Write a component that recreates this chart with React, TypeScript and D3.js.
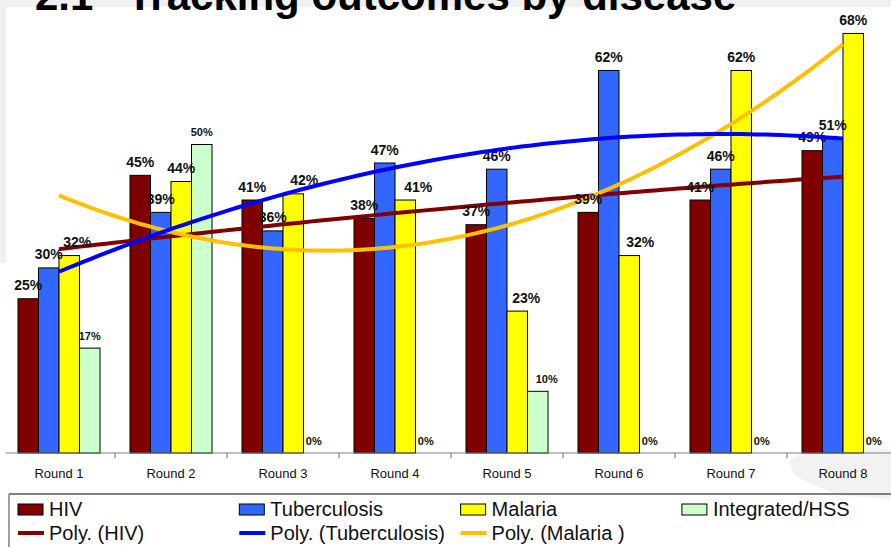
import React from "react";
import * as d3 from "d3";

// Rounds and outcome percentages per disease
const rounds = ["Round 1", "Round 2", "Round 3", "Round 4", "Round 5", "Round 6", "Round 7", "Round 8"];
const hiv = [25, 45, 41, 38, 37, 39, 41, 49];
const tuberculosis = [30, 39, 36, 47, 46, 62, 46, 51];
const malaria = [32, 44, 42, 41, 23, 32, 62, 68];
const integrated = [17, 50, 0, 0, 10, 0, 0, 0];

const seriesNames = ["HIV", "Tuberculosis", "Malaria", "Integrated/HSS"];
const trendNames = ["Poly. (HIV)", "Poly. (Tuberculosis)", "Poly. (Malaria )"];

const W = 891;
const H = 547;
const FONT = "'Liberation Sans', Arial, Helvetica, sans-serif";

const barColors = ["#800000", "#3366ff", "#ffff00", "#ccffcc"];
const trendColors = ["#800000", "#0000ff", "#ffc000"];

// horizontal nudges for data labels that sit beside a neighbouring label
const labelNudge: number[][] = [
  [0, 0, 0, 0, 0, 0, 0, 0],
  [0, 0, 0, 0, 0, 0, 0, 0],
  [8, 0, 11, 13, 9, 11, 0, 0],
  [0, 0, 0, 0, 9, 0, 0, 0],
];

// least-squares quadratic fit over x = 1..n, returns a function of x
function quadFit(ys: number[]) {
  const n = ys.length;
  const xs = ys.map((_, i) => i + 1);
  const S = (f: (x: number, y: number) => number) => d3.sum(xs, (x, i) => f(x, ys[i]));
  const s0 = n, s1 = S((x) => x), s2 = S((x) => x * x), s3 = S((x) => x ** 3), s4 = S((x) => x ** 4);
  const t0 = S((_, y) => y), t1 = S((x, y) => x * y), t2 = S((x, y) => x * x * y);
  // solve 3x3 normal equations by Cramer's rule
  const det = (m: number[][]) =>
    m[0][0] * (m[1][1] * m[2][2] - m[1][2] * m[2][1]) -
    m[0][1] * (m[1][0] * m[2][2] - m[1][2] * m[2][0]) +
    m[0][2] * (m[1][0] * m[2][1] - m[1][1] * m[2][0]);
  const A = [
    [s0, s1, s2],
    [s1, s2, s3],
    [s2, s3, s4],
  ];
  const b = [t0, t1, t2];
  const D = det(A);
  const coef = [0, 1, 2].map((k) => det(A.map((row, r) => row.map((v, c) => (c === k ? b[r] : v)))) / D);
  return (x: number) => coef[0] + coef[1] * x + coef[2] * x * x;
}

export default function App() {
  const baseline = 453;
  const x = d3.scaleBand<string>().domain(rounds).range([3, 899]).padding(0);
  const inner = d3.scaleBand<string>().domain(seriesNames).range([15, 97]).padding(0);
  const y = d3.scaleLinear().domain([0, 70]).range([baseline, baseline - 70 * 6.17]);

  const data = [hiv, tuberculosis, malaria, integrated];
  const centerX = d3
    .scaleLinear()
    .domain([1, rounds.length])
    .range([x(rounds[0])! + x.bandwidth() / 2, x(rounds[rounds.length - 1])! + x.bandwidth() / 2]);

  const trends = [hiv, tuberculosis, malaria].map((vals) => {
    const f = quadFit(vals);
    const pts = d3.range(0, 101).map((i) => 1 + (i * (rounds.length - 1)) / 100);
    return d3
      .line<number>()
      .x((t) => centerX(t))
      .y((t) => y(f(t)))
      .curve(d3.curveLinear)(pts)!;
  });

  const legendX = (i: number) => 18 + i * 221.3;

  const trendPath = (i: number) => (
    <path key={i} d={trends[i]} fill="none" stroke={trendColors[i]} strokeWidth={4} />
  );

  return (
    <svg
      width={W}
      height={H}
      style={{ position: "absolute", left: 0, top: 0, display: "block" }}
      fontFamily={FONT}
    >
      <rect x={0} y={0} width={W} height={H} fill="#ffffff" />
      <rect x={0} y={0} width={W} height={7} fill="#eff0ef" />
      <rect x={0} y={0} width={6} height={263} fill="#eff0ef" />

      {/* faint background emblem behind the last category */}
      <path
        d="M790,462 C800,450 822,446 842,452 C858,448 874,446 891,450 L891,500 C870,496 850,499 832,492 C815,486 800,480 792,472 Z"
        fill="#f1f2f1"
      />

      {/* title */}
      <text x={35} y={10} fontSize={42} fontWeight="bold" fill="#000">
        2.1
      </text>
      <text x={127} y={10} fontSize={42} fontWeight="bold" fill="#000">
        Tracking outcomes by disease
      </text>

      {/* bars */}
      {rounds.map((r, ri) => (
        <g key={r} transform={`translate(${x(r)},0)`}>
          {data.map((vals, si) =>
            vals[ri] > 0 ? (
              <rect
                key={si}
                x={inner(seriesNames[si])}
                y={y(vals[ri])}
                width={inner.bandwidth()}
                height={baseline - y(vals[ri])}
                fill={barColors[si]}
                stroke="#000"
                strokeWidth={1}
              />
            ) : null
          )}
        </g>
      ))}

      {/* x axis */}
      <line x1={6} x2={W} y1={baseline} y2={baseline} stroke="#808080" strokeWidth={1.2} />
      {rounds.slice(1).map((r) => (
        <line key={r} x1={x(r)} x2={x(r)} y1={baseline} y2={baseline + 5} stroke="#808080" strokeWidth={1.2} />
      ))}
      {rounds.map((r) => (
        <text key={r} x={x(r)! + x.bandwidth() / 2} y={478} fontSize={13} textAnchor="middle" fill="#111">
          {r}
        </text>
      ))}

      {/* HIV and malaria trends sit beneath the data labels */}
      {trendPath(0)}
      {trendPath(2)}

      {/* data labels */}
      {rounds.map((r, ri) =>
        data.map((vals, si) => (
          <text
            key={`${r}-${si}`}
            x={x(r)! + inner(seriesNames[si])! + inner.bandwidth() / 2 + labelNudge[si][ri]}
            y={y(vals[ri]) - 8.5}
            fontSize={si === 3 ? 11 : 14}
            fontWeight="bold"
            textAnchor="middle"
            fill="#111"
          >
            {`${vals[ri]}%`}
          </text>
        ))
      )}

      {/* tuberculosis trend on top */}
      {trendPath(1)}

      {/* legend */}
      <line x1={9} x2={W} y1={494} y2={494} stroke="#808080" strokeWidth={2} />
      <line x1={9} x2={9} y1={494} y2={H} stroke="#808080" strokeWidth={1.5} />
      {seriesNames.map((s, i) => (
        <g key={s}>
          <rect x={legendX(i)} y={504} width={25} height={11} fill={barColors[i]} stroke="#000" strokeWidth={1} />
          <text x={legendX(i) + 31} y={515.5} fontSize={20} fill="#111">
            {s}
          </text>
        </g>
      ))}
      {trendNames.map((s, i) => (
        <g key={s}>
          <line x1={legendX(i)} x2={legendX(i) + 26} y1={533} y2={533} stroke={trendColors[i]} strokeWidth={4} />
          <text x={legendX(i) + 31} y={539.5} fontSize={20} fill="#111">
            {s}
          </text>
        </g>
      ))}
    </svg>
  );
}
